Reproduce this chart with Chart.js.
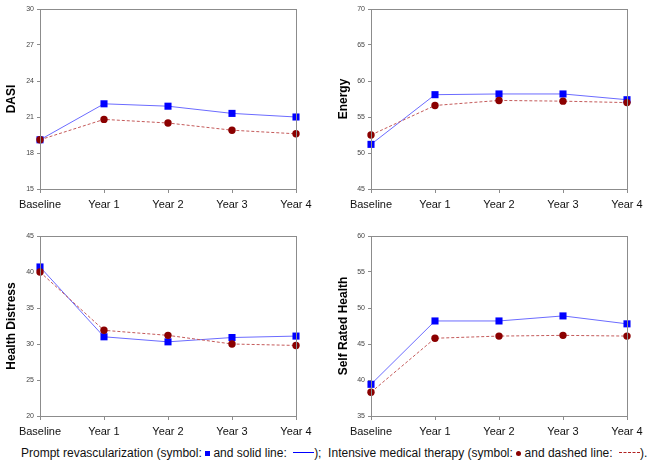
<!DOCTYPE html>
<html>
<head>
<meta charset="utf-8">
<script src="https://cdn.jsdelivr.net/npm/chart.js@4/dist/chart.umd.min.js"></script>
<style>
  body { margin: 0; background: #fff; font-family: "Liberation Sans", Arial, sans-serif; }
  #wrap { position: relative; width: 650px; height: 474px; }
  .panel { position: absolute; width: 325px; height: 214px; }
  #legend { position: absolute; left: 21px; top: 445px; font-size: 12px; line-height: 16px; color: #111; white-space: nowrap; }
  .sq { display: inline-block; width: 5px; height: 5px; background: #0000ff; vertical-align: 1px; }
  .dot { display: inline-block; width: 5px; height: 5px; border-radius: 50%; background: #8b0000; vertical-align: 1px; }
  .solid { display: inline-block; width: 21px; border-top: 1px solid #0000ff; vertical-align: 4px; margin-left: 3px; }
  .dash { display: inline-block; width: 21px; border-top: 1px dashed #b22222; vertical-align: 4px; margin-left: 3px; }
</style>
</head>
<body>
<div id="wrap">
  <div class="panel" style="left:0;top:0"><canvas id="dasi-chart"></canvas></div>
  <div class="panel" style="left:325px;top:0"><canvas id="energy-chart"></canvas></div>
  <div class="panel" style="left:0;top:227px"><canvas id="distress-chart"></canvas></div>
  <div class="panel" style="left:325px;top:227px"><canvas id="health-chart"></canvas></div>
  <div id="legend">Prompt revascularization (symbol: <span class="sq"></span> and solid line: <span class="solid"></span>);&nbsp; Intensive medical therapy (symbol: <span class="dot"></span> and dashed line: <span class="dash"></span>).</div>
</div>
<script>
const timepoints = ['Baseline', 'Year 1', 'Year 2', 'Year 3', 'Year 4'];

const dasiPrompt = [19.1, 22.1, 21.9, 21.3, 21.0];
const dasiMedical = [19.1, 20.8, 20.5, 19.9, 19.6];
const energyPrompt = [51.2, 58.1, 58.2, 58.2, 57.4];
const energyMedical = [52.5, 56.6, 57.3, 57.2, 57.0];
const distressPrompt = [40.7, 31.0, 30.3, 30.9, 31.1];
const distressMedical = [40.0, 31.9, 31.2, 30.0, 29.8];
const healthPrompt = [39.4, 48.2, 48.2, 48.9, 47.8];
const healthMedical = [38.3, 45.8, 46.1, 46.2, 46.1];

const axisColor = '#8c8c8c';
const font = "'Liberation Sans', Arial, sans-serif";

// draws the grey box round the plot area
const boxPlugin = {
  id: 'box',
  afterDraw(chart) {
    const a = chart.chartArea;
    const ctx = chart.ctx;
    ctx.save();
    ctx.strokeStyle = axisColor;
    ctx.lineWidth = 1;
    ctx.strokeRect(Math.round(a.left) + 0.5, Math.round(a.top) + 0.5, Math.round(a.right - a.left), Math.round(a.bottom - a.top));
    ctx.restore();
  }
};

function makePanel(id, title, prompt, medical, min, max, step, yWidth, titlePad, padRight) {
  const ctx = document.getElementById(id).getContext('2d');
  return new Chart(ctx, {
    type: 'line',
    data: {
      labels: timepoints,
      datasets: [{
        label: 'Prompt revascularization',
        data: prompt,
        borderColor: '#6b6bff',
        borderWidth: 1,
        pointStyle: 'rect',
        pointRadius: 5,
        pointBackgroundColor: '#0000ff',
        pointBorderColor: '#0000ff',
        pointBorderWidth: 0,
        tension: 0,
        order: 2
      }, {
        label: 'Intensive medical therapy',
        data: medical,
        borderColor: '#c45a5a',
        borderWidth: 1,
        borderDash: [3, 2],
        pointStyle: 'circle',
        pointRadius: 3.7,
        pointBackgroundColor: '#8b0000',
        pointBorderColor: '#8b0000',
        pointBorderWidth: 0,
        tension: 0,
        order: 1
      }]
    },
    options: {
      responsive: true,
      maintainAspectRatio: false,
      animation: false,
      layout: { padding: { top: 9, right: padRight, left: 0, bottom: 0 } },
      plugins: {
        legend: { display: false },
        tooltip: { enabled: false }
      },
      scales: {
        x: {
          offset: false,
          grid: { display: true, drawOnChartArea: false, tickLength: 4, color: axisColor },
          border: { color: axisColor },
          ticks: { color: '#111', font: { family: font, size: 11 }, padding: 5, maxRotation: 0, autoSkip: false },
          afterFit: s => { s.height = 25; }
        },
        y: {
          min: min,
          max: max,
          grid: { display: true, drawOnChartArea: false, tickLength: 3, color: axisColor },
          border: { color: axisColor },
          ticks: { stepSize: step, color: '#444', font: { family: font, size: 7 }, padding: 3 },
          title: { display: true, text: title, color: '#000', font: { family: font, size: 12, weight: 'bold' }, padding: { top: titlePad, bottom: 0 } },
          afterFit: s => { s.width = yWidth; }
        }
      }
    },
    plugins: [boxPlugin]
  });
}

makePanel('dasi-chart', 'DASI', dasiPrompt, dasiMedical, 15, 30, 3, 40, 4, 29);
makePanel('energy-chart', 'Energy', energyPrompt, energyMedical, 45, 70, 5, 46, 11, 23);
makePanel('distress-chart', 'Health Distress', distressPrompt, distressMedical, 20, 45, 5, 40, 4, 29);
makePanel('health-chart', 'Self Rated Health', healthPrompt, healthMedical, 35, 60, 5, 46, 11, 23);
</script>
</body>
</html>
